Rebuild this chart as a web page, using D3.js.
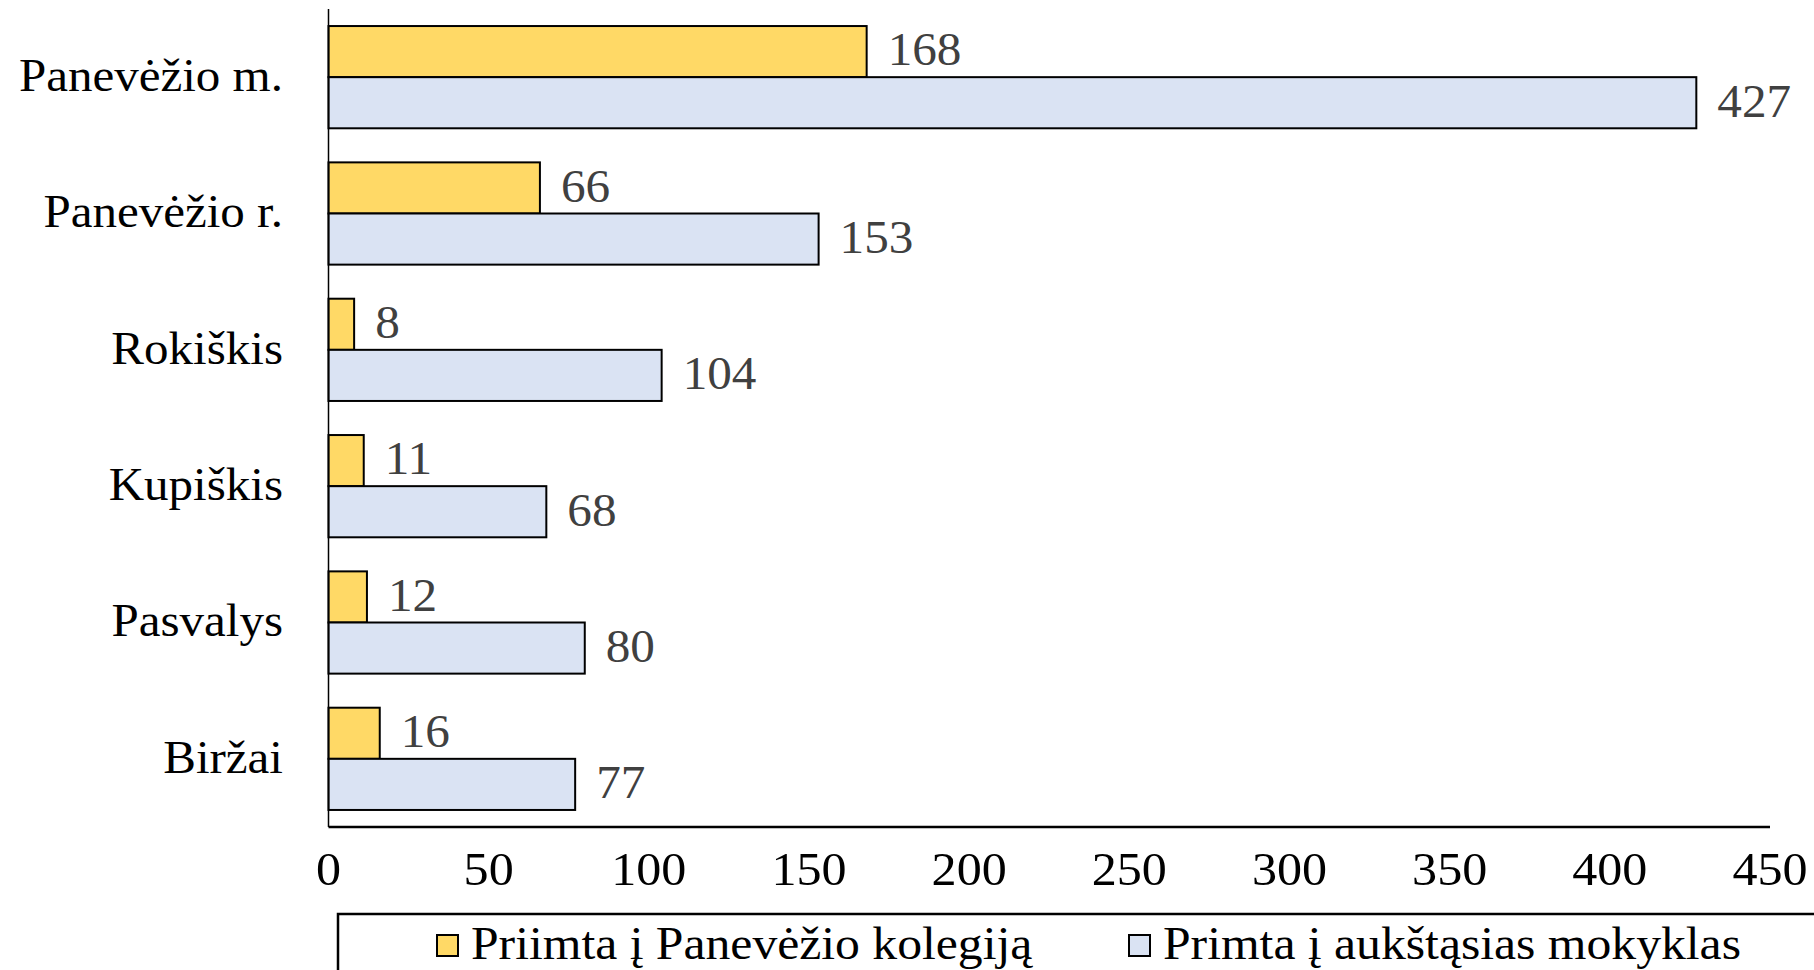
<!DOCTYPE html>
<html>
<head>
<meta charset="utf-8">
<script src="https://cdn.jsdelivr.net/npm/d3@7"></script>
<style>
  body { margin: 0; background: white; }
  svg { display: block; }
  text { font-family: "Liberation Serif", "Times New Roman", serif; font-size: 46px; }
</style>
</head>
<body>
<script>
var categories = ["Panevėžio m.", "Panevėžio r.", "Rokiškis", "Kupiškis", "Pasvalys", "Biržai"]
var kolegija = [168, 66, 8, 11, 12, 16]
var aukstosios = [427, 153, 104, 68, 80, 77]
var tickValues = [0, 50, 100, 150, 200, 250, 300, 350, 400, 450]
var seriesNames = ["Priimta į Panevėžio kolegiją", "Primta į aukštąsias mokyklas"]
var seriesColors = ["#FFD966", "#DAE3F3"]

var width = 1814, height = 970
var margin = {left: 328.5, right: 1770, top: 9, bottom: 827}

// the original text is a bit stretched sideways
var place = function(x, y, sx)
{
  return "translate(" + x + "," + y + ") scale(" + sx + ",1)"
}

var svg = d3.select("body").append("svg")
  .attr("width", width)
  .attr("height", height)

var x = d3.scaleLinear()
  .domain([0, 450])
  .range([margin.left, margin.right])

var y = d3.scaleBand()
  .domain(categories)
  .range([margin.top, margin.bottom])
  .paddingInner(0.25)
  .paddingOuter(0.125)

var inner = d3.scaleBand()
  .domain([0, 1])
  .range([0, y.bandwidth()])

var rows = categories.map(function(c, i)
{
  return {name: c, values: [kolegija[i], aukstosios[i]]}
})

// bars
var groups = svg.append("g")
  .selectAll("g")
  .data(rows)
  .join("g")
  .attr("transform", d => "translate(0," + y(d.name) + ")")

groups.selectAll("rect")
  .data(d => d.values)
  .join("rect")
  .attr("x", x(0))
  .attr("y", (d, i) => inner(i))
  .attr("width", d => x(d) - x(0))
  .attr("height", inner.bandwidth())
  .attr("fill", (d, i) => seriesColors[i])
  .attr("stroke", "#000")
  .attr("stroke-width", 2)

groups.selectAll("text")
  .data(d => d.values)
  .join("text")
  .attr("transform", (d, i) => place(x(d) + 21, inner(i) + inner.bandwidth() / 2, 1.07))
  .attr("dy", "0.3em")
  .attr("fill", "#404040")
  .text(d => d)

// axes
svg.append("line")
  .attr("x1", x(0)).attr("x2", x(0))
  .attr("y1", 9).attr("y2", margin.bottom)
  .attr("stroke", "#000")
  .attr("stroke-width", 1.5)

svg.append("line")
  .attr("x1", x(0)).attr("x2", margin.right)
  .attr("y1", margin.bottom).attr("y2", margin.bottom)
  .attr("stroke", "#000")
  .attr("stroke-width", 2.5)

svg.append("g")
  .selectAll("text")
  .data(tickValues)
  .join("text")
  .attr("transform", d => place(x(d), 870, 1.09))
  .attr("dy", "0.33em")
  .attr("text-anchor", "middle")
  .text(d => d)

svg.append("g")
  .selectAll("text")
  .data(categories)
  .join("text")
  .attr("transform", d => place(283, y(d) + y.bandwidth() / 2, 1.066))
  .attr("dy", "0.3em")
  .attr("text-anchor", "end")
  .text(d => d)

// legend
var legend = svg.append("g")
legend.append("rect")
  .attr("x", 338).attr("y", 914)
  .attr("width", 1600).attr("height", 200)
  .attr("fill", "none")
  .attr("stroke", "#000")
  .attr("stroke-width", 2.5)

var legendX = [437, 1129]
seriesNames.forEach(function(name, i)
{
  legend.append("rect")
    .attr("x", legendX[i]).attr("y", 935)
    .attr("width", 21).attr("height", 21)
    .attr("fill", seriesColors[i])
    .attr("stroke", "#000")
    .attr("stroke-width", 2)
  legend.append("text")
    .attr("transform", place(legendX[i] + 34, 945, 1.08))
    .attr("dy", "0.3em")
    .text(name)
})
</script>
</body>
</html>
